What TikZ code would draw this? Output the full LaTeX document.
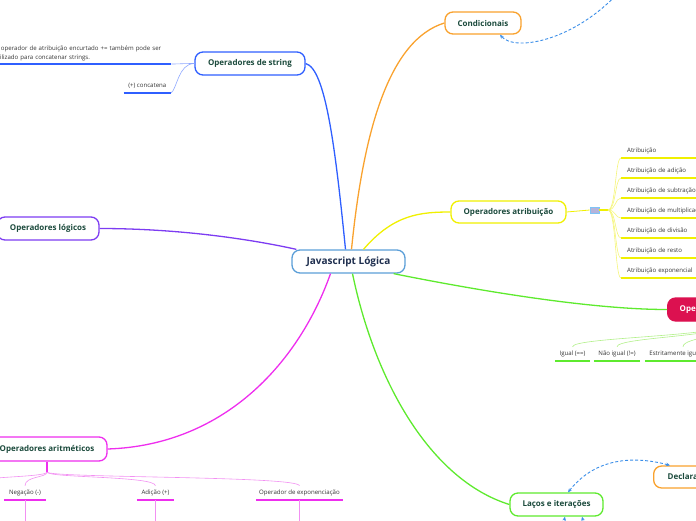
\documentclass[tikz,border=0pt]{standalone}
\usepackage{fontspec}
\setmainfont{Open Sans}
\usetikzlibrary{arrows.meta}
\definecolor{cblue}{HTML}{2F5FFF}
\definecolor{cblueL}{HTML}{8FA8FF}
\definecolor{corange}{HTML}{F9A22E}
\definecolor{cpurple}{HTML}{7D3CF2}
\definecolor{cyellow}{HTML}{F0F000}
\definecolor{cyellowL}{HTML}{F5F57A}
\definecolor{cgreen}{HTML}{5EEA2E}
\definecolor{cgreenL}{HTML}{B2F08A}
\definecolor{cmag}{HTML}{EE2EEE}
\definecolor{cmagL}{HTML}{F290F2}
\definecolor{ccenter}{HTML}{5C9FD8}
\definecolor{ctext}{HTML}{1B4A3C}
\definecolor{cdark}{HTML}{1F2F4F}
\definecolor{cred}{HTML}{DC1150}
\definecolor{cdash}{HTML}{3B8EE8}
\definecolor{cgray}{HTML}{333333}
\definecolor{mkfill}{HTML}{B5B3DA}
\definecolor{mkborder}{HTML}{7FC4F5}
\begin{document}
\begin{tikzpicture}[x=1pt,y=-1pt,
  mainnode/.style={draw, rounded corners=8pt, line width=1.3pt, fill=white,
    font=\bfseries\fontsize{8}{9}\selectfont, text=ctext, inner sep=0pt},
  lbl/.style={font=\fontsize{6.1}{7}\selectfont, text=cgray, inner sep=0pt, minimum height=14pt},
  branch/.style={line width=1.3pt},
  twig/.style={line width=0.6pt},
  uline/.style={line width=1.6pt},
  relarrow/.style={cdash, line width=0.9pt, dash pattern=on 3pt off 2pt}
]
\clip (0,0) rectangle (696,520);

% main nodes
\node[mainnode, draw=ccenter, text=cdark, font=\bfseries\fontsize{10}{12}\selectfont,
  minimum width=113pt, minimum height=23pt] (c) at (348.5,261.5) {Javascript Lógica};
\node[mainnode, draw=corange, minimum width=76pt, minimum height=22pt] (cond) at (483,23) {Condicionais};
\node[mainnode, draw=cblue, minimum width=110pt, minimum height=23pt] (str) at (250,63.5) {Operadores de string};
\node[mainnode, draw=cpurple, minimum width=102pt, minimum height=23pt] (log) at (48,228.5) {Operadores lógicos};
\node[mainnode, draw=cyellow, minimum width=115pt, minimum height=22pt] (atr) at (508.5,212) {Operadores atribuição};
\node[mainnode, draw=cred, fill=cred, text=white, anchor=west, inner xsep=12pt,
  minimum height=23pt] (oper) at (667,309.5) {Operadores de comparação};
\node[mainnode, draw=cmag, minimum width=120pt, minimum height=24pt] (ari) at (47,449) {Operadores aritméticos};
\node[mainnode, draw=cgreen, minimum width=93pt, minimum height=23pt] (lac) at (556.5,504.5) {Laços e iterações};
\node[mainnode, draw=corange, anchor=west, inner xsep=14pt, minimum height=22pt] (dec) at (653,477) {Declarações};

% main connectors
\draw[branch, corange] ([xshift=3pt]c.north) .. controls +(12,-120) and +(-55,17) .. (cond.west);
\draw[branch, cblue] (str.east) .. controls +(20,5) and +(-10,-100) .. ([xshift=-3pt]c.north);
\draw[branch, cpurple] (log.east) .. controls +(80,0) and +(-45,-10) .. ([xshift=5pt]c.north west);
\draw[branch, cmag] (ari.east) .. controls +(120,-4) and +(-30,85) .. ([xshift=-18pt]c.south);
\draw[branch, cyellow] ([xshift=15pt]c.north) .. controls +(30,-35) and +(-30,0) .. (atr.west);
\draw[branch, cgreen] ([xshift=-12pt]c.south east) .. controls +(100,20) and +(-70,0) .. (oper.west);
\draw[branch, cgreen] ([xshift=4pt]c.south) .. controls +(22,106) and +(-80,-25) .. (lac.west);

% string children
\node[lbl, anchor=south west, align=left, text width=177pt, inner ysep=2.5pt,
  font=\fontsize{6.1}{9}\selectfont] (strtxt) at (-6,64)
  {O operador de atribuição encurtado += também pode ser\\utilizado para concatenar strings.};
\node[lbl, anchor=south east, minimum width=47pt] (conc) at (171,93) {(+) concatena};
\draw[uline, cblue] (strtxt.south west) -- (strtxt.south east);
\draw[uline, cblue] (conc.south west) -- (conc.south east);
\draw[twig, cblueL] (str.west) .. controls +(-12,0) and +(8,0) .. (strtxt.south east);
\draw[twig, cblueL] (str.west) .. controls +(-16,0) and +(6,-4) .. (conc.south east);

% atribuicao children
\node[draw=mkborder, fill=mkfill, line width=0.6pt, minimum width=9pt, minimum height=6pt,
  inner sep=0pt] (mk) at (594.5,210) {};
\coordinate (br) at (608,210);
\draw[line width=0.8pt, cyellow] (atr.east) -- (mk.west);
\draw[uline, cyellow] (mk.east) -- (br);
\foreach \t/\yy/\nm in {Atribuição/158/a1, Atribuição de adição/178/a2,
  Atribuição de subtração/198/a3, Atribuição de multiplicação/218/a4,
  Atribuição de divisão/238/a5, Atribuição de resto/258/a6,
  Atribuição exponencial/278/a7}{
  \node[lbl, anchor=south west, inner xsep=6pt, text width=92pt, align=left] (\nm) at (621,\yy) {\t};
  \draw[uline, cyellow] (\nm.south west) -- (\nm.south east);
  \draw[twig, cyellowL] (br) .. controls +(8,0) and +(-6,0) .. (\nm.south west);
}

% comparacao children
\node[lbl, minimum width=35pt] (eq) at (572.5,354) {Igual (==)};
\node[lbl, minimum width=46pt] (neq) at (617,354) {Não igual (!=)};
\node[lbl, minimum width=76pt] (seq) at (683,354) {Estritamente igual (===)};
\foreach \nm in {eq,neq,seq}{
  \draw[uline, cgreen] (\nm.south west) -- (\nm.south east);
  \draw[twig, cgreenL] (oper.south) .. controls +(0,15) and +(0,-10) .. (\nm.north);
}

% aritmeticos children
\coordinate (as) at (47,472);
\draw[line width=2pt, cmag] (ari.south) -- (as);
\node[lbl, minimum width=42pt] (neg) at (25,493) {Negação (-)};
\node[lbl, minimum width=37pt] (adi) at (155.5,493) {Adição (+)};
\node[lbl, minimum width=87pt] (expo) at (299.5,493) {Operador de exponenciação};
\coordinate (aoff) at (-40,486);
\coordinate (negd) at (25,530);
\coordinate (adid) at (155.5,530);
\coordinate (expod) at (299.5,530);
\draw[twig, cmagL] (as) .. controls +(0,6) and +(0,-10) .. (aoff);
\foreach \nm in {neg,adi,expo}{
  \draw[uline, cmag] (\nm.south west) -- (\nm.south east);
  \draw[twig, cmagL] (as) .. controls +(0,6) and +(0,-10) .. (\nm.north);
  \draw[line width=0.8pt, cmagL] (\nm.south) -- (\nm d);
}

% relation arrows
\coordinate (rc) at (625,-15);
\draw[relarrow, -{Stealth[length=4pt,width=3.5pt]}] (rc) .. controls +(-45,55) and +(15,18) .. ([xshift=17pt]cond.south);
\draw[relarrow, {Stealth[length=4pt,width=3.5pt]}-{Stealth[length=4pt,width=3.5pt]}]
  ([xshift=11.5pt]lac.north) .. controls +(30,-38) and +(-30,-8) .. ([xshift=17pt]dec.north west);
\coordinate (lb1) at (560,540);
\coordinate (lb2) at (588,540);
\draw[relarrow, -{Stealth[length=4pt,width=3.5pt]}] (lb1) -- ([xshift=8.5pt]lac.south);
\draw[relarrow, -{Stealth[length=4pt,width=3.5pt]}] (lb2) -- ([xshift=25.5pt]lac.south);
\end{tikzpicture}
\end{document}
